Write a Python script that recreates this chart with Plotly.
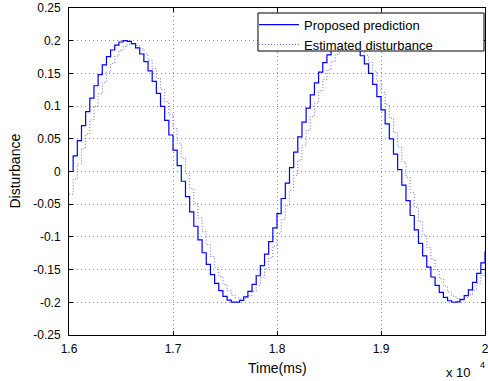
import plotly.graph_objects as go

# Time samples (ms), 40 ms apart from 16000 to 20000
time_ms = [16000 + 40 * k for k in range(101)]

proposed_prediction = [
    0.0000, 0.0238, 0.0472, 0.0700, 0.0917, 0.1122, 0.1311, 0.1481, 0.1630, 0.1756,
    0.1858, 0.1933, 0.1980, 0.2000, 0.1991, 0.1954, 0.1889, 0.1797, 0.1680, 0.1539,
    0.1377, 0.1195, 0.0995, 0.0782, 0.0558, 0.0326, 0.0089, -0.0149, -0.0385, -0.0616,
    -0.0837, -0.1047, -0.1242, -0.1420, -0.1577, -0.1712, -0.1823, -0.1908, -0.1966, -0.1996,
    -0.1997, -0.1971, -0.1916, -0.1834, -0.1726, -0.1594, -0.1439, -0.1264, -0.1072, -0.0863,
    -0.0643, -0.0413, -0.0178, 0.0060, 0.0297, 0.0530, 0.0756, 0.0970, 0.1171, 0.1356,
    0.1521, 0.1664, 0.1784, 0.1879, 0.1947, 0.1988, 0.2000, 0.1984, 0.1940, 0.1868,
    0.1770, 0.1647, 0.1500, 0.1333, 0.1146, 0.0943, 0.0727, 0.0500, 0.0266, 0.0029,
    -0.0209, -0.0444, -0.0673, -0.0892, -0.1098, -0.1289, -0.1461, -0.1613, -0.1742, -0.1847,
    -0.1925, -0.1976, -0.1999, -0.1993, -0.1959, -0.1898, -0.1810, -0.1695, -0.1558, -0.1398,
    -0.1218,
]

estimated_disturbance = [
    -0.0347, -0.0116, 0.0116, 0.0347, 0.0572, 0.0790, 0.0996, 0.1188, 0.1363, 0.1520,
    0.1654, 0.1765, 0.1851, 0.1911, 0.1944, 0.1949, 0.1926, 0.1876, 0.1800, 0.1698,
    0.1572, 0.1424, 0.1256, 0.1070, 0.0868, 0.0654, 0.0432, 0.0203, -0.0029, -0.0261,
    -0.0489, -0.0710, -0.0920, -0.1118, -0.1300, -0.1464, -0.1607, -0.1726, -0.1822, -0.1892,
    -0.1934, -0.1950, -0.1938, -0.1898, -0.1832, -0.1739, -0.1622, -0.1482, -0.1321, -0.1141,
    -0.0945, -0.0736, -0.0516, -0.0289, -0.0058, 0.0175, 0.0404, 0.0628, 0.0843, 0.1046,
    0.1234, 0.1405, 0.1555, 0.1684, 0.1789, 0.1869, 0.1922, 0.1947, 0.1946, 0.1916,
    0.1860, 0.1777, 0.1669, 0.1537, 0.1383, 0.1210, 0.1020, 0.0815, 0.0599, 0.0374,
    0.0144, -0.0088, -0.0319, -0.0545, -0.0764, -0.0972, -0.1166, -0.1343, -0.1502, -0.1639,
    -0.1753, -0.1842, -0.1905, -0.1941, -0.1949, -0.1930, -0.1884, -0.1811, -0.1712, -0.1589,
    -0.1443,
]

x_tickvals = [16000, 17000, 18000, 19000, 20000]
x_ticktext = ["1.6", "1.7", "1.8", "1.9", "2"]
y_tickvals = [-0.25, -0.2, -0.15, -0.1, -0.05, 0, 0.05, 0.1, 0.15, 0.2, 0.25]
y_ticktext = ["-0.25", "-0.2", "-0.15", "-0.1", "-0.05", "0", "0.05", "0.1", "0.15", "0.2", "0.25"]

FONT = "Liberation Sans, Arial, sans-serif"

fig = go.Figure()
fig.add_trace(go.Scatter(
    x=time_ms, y=proposed_prediction, mode="lines", name="Proposed prediction",
    line=dict(color="#0000ff", width=1.2, shape="hv"),
))
fig.add_trace(go.Scatter(
    x=time_ms, y=estimated_disturbance, mode="lines", name="Estimated disturbance",
    line=dict(color="rgba(70,70,255,0.8)", width=1, shape="hv", dash="1px,2px"),
))

axis_common = dict(
    showline=True, linecolor="black", linewidth=1, mirror="ticks",
    ticks="inside", ticklen=4, tickcolor="black",
    showgrid=True, gridcolor="#8c8c8c", griddash="1px,3px", gridwidth=1,
    zeroline=False, automargin=False, ticklabeloverflow="allow",
    tickfont=dict(family=FONT, size=12, color="black"),
)

fig.update_xaxes(range=[16000, 20000], tickvals=x_tickvals, ticktext=x_ticktext,
                 ticklabelstandoff=3, **axis_common)
fig.update_yaxes(range=[-0.25, 0.25], tickvals=y_tickvals, ticktext=y_ticktext,
                 ticklabelstandoff=5, **axis_common)

# axis titles
fig.add_annotation(x=0.5, y=0, xref="paper", yref="paper", xanchor="center", yanchor="middle",
                   yshift=-33, showarrow=False, text="Time(ms)",
                   font=dict(family=FONT, size=14, color="black"))
fig.add_annotation(x=0, y=0.5, xref="paper", yref="paper", xanchor="center", yanchor="middle",
                   xshift=-55, showarrow=False, text="Disturbance", textangle=-90,
                   font=dict(family=FONT, size=14, color="black"))

# exponent label
fig.add_annotation(x=1.0, y=0, xref="paper", yref="paper", xanchor="right", yanchor="middle",
                   yshift=-37, xshift=-12, showarrow=False, text="x 10",
                   font=dict(family=FONT, size=13, color="black"))
fig.add_annotation(x=1.0, y=0, xref="paper", yref="paper", xanchor="center", yanchor="middle",
                   yshift=-30, xshift=-3, showarrow=False, text="4",
                   font=dict(family=FONT, size=9, color="black"))

# legend box
fig.add_shape(type="rect", xref="paper", yref="paper", layer="above",
              x0=0.4543, x1=0.9976, y0=0.8685, y1=0.9847,
              fillcolor="white", line=dict(color="black", width=1))

fig.update_layout(
    width=488, height=381,
    margin=dict(l=69, r=3, t=8, b=46, autoexpand=False),
    paper_bgcolor="white", plot_bgcolor="white",
    font=dict(family=FONT, size=12, color="black"),
    showlegend=True,
    legend=dict(
        x=0.4447, y=0.995, xanchor="left", yanchor="top",
        bgcolor="rgba(0,0,0,0)", borderwidth=0,
        font=dict(family=FONT, size=13, color="black"),
        tracegroupgap=0, itemwidth=40,
    ),
)

fig.write_html(
    "out.html",
    config={"displayModeBar": False},
    post_script="document.body.style.margin='0';document.body.style.padding='0';",
)
